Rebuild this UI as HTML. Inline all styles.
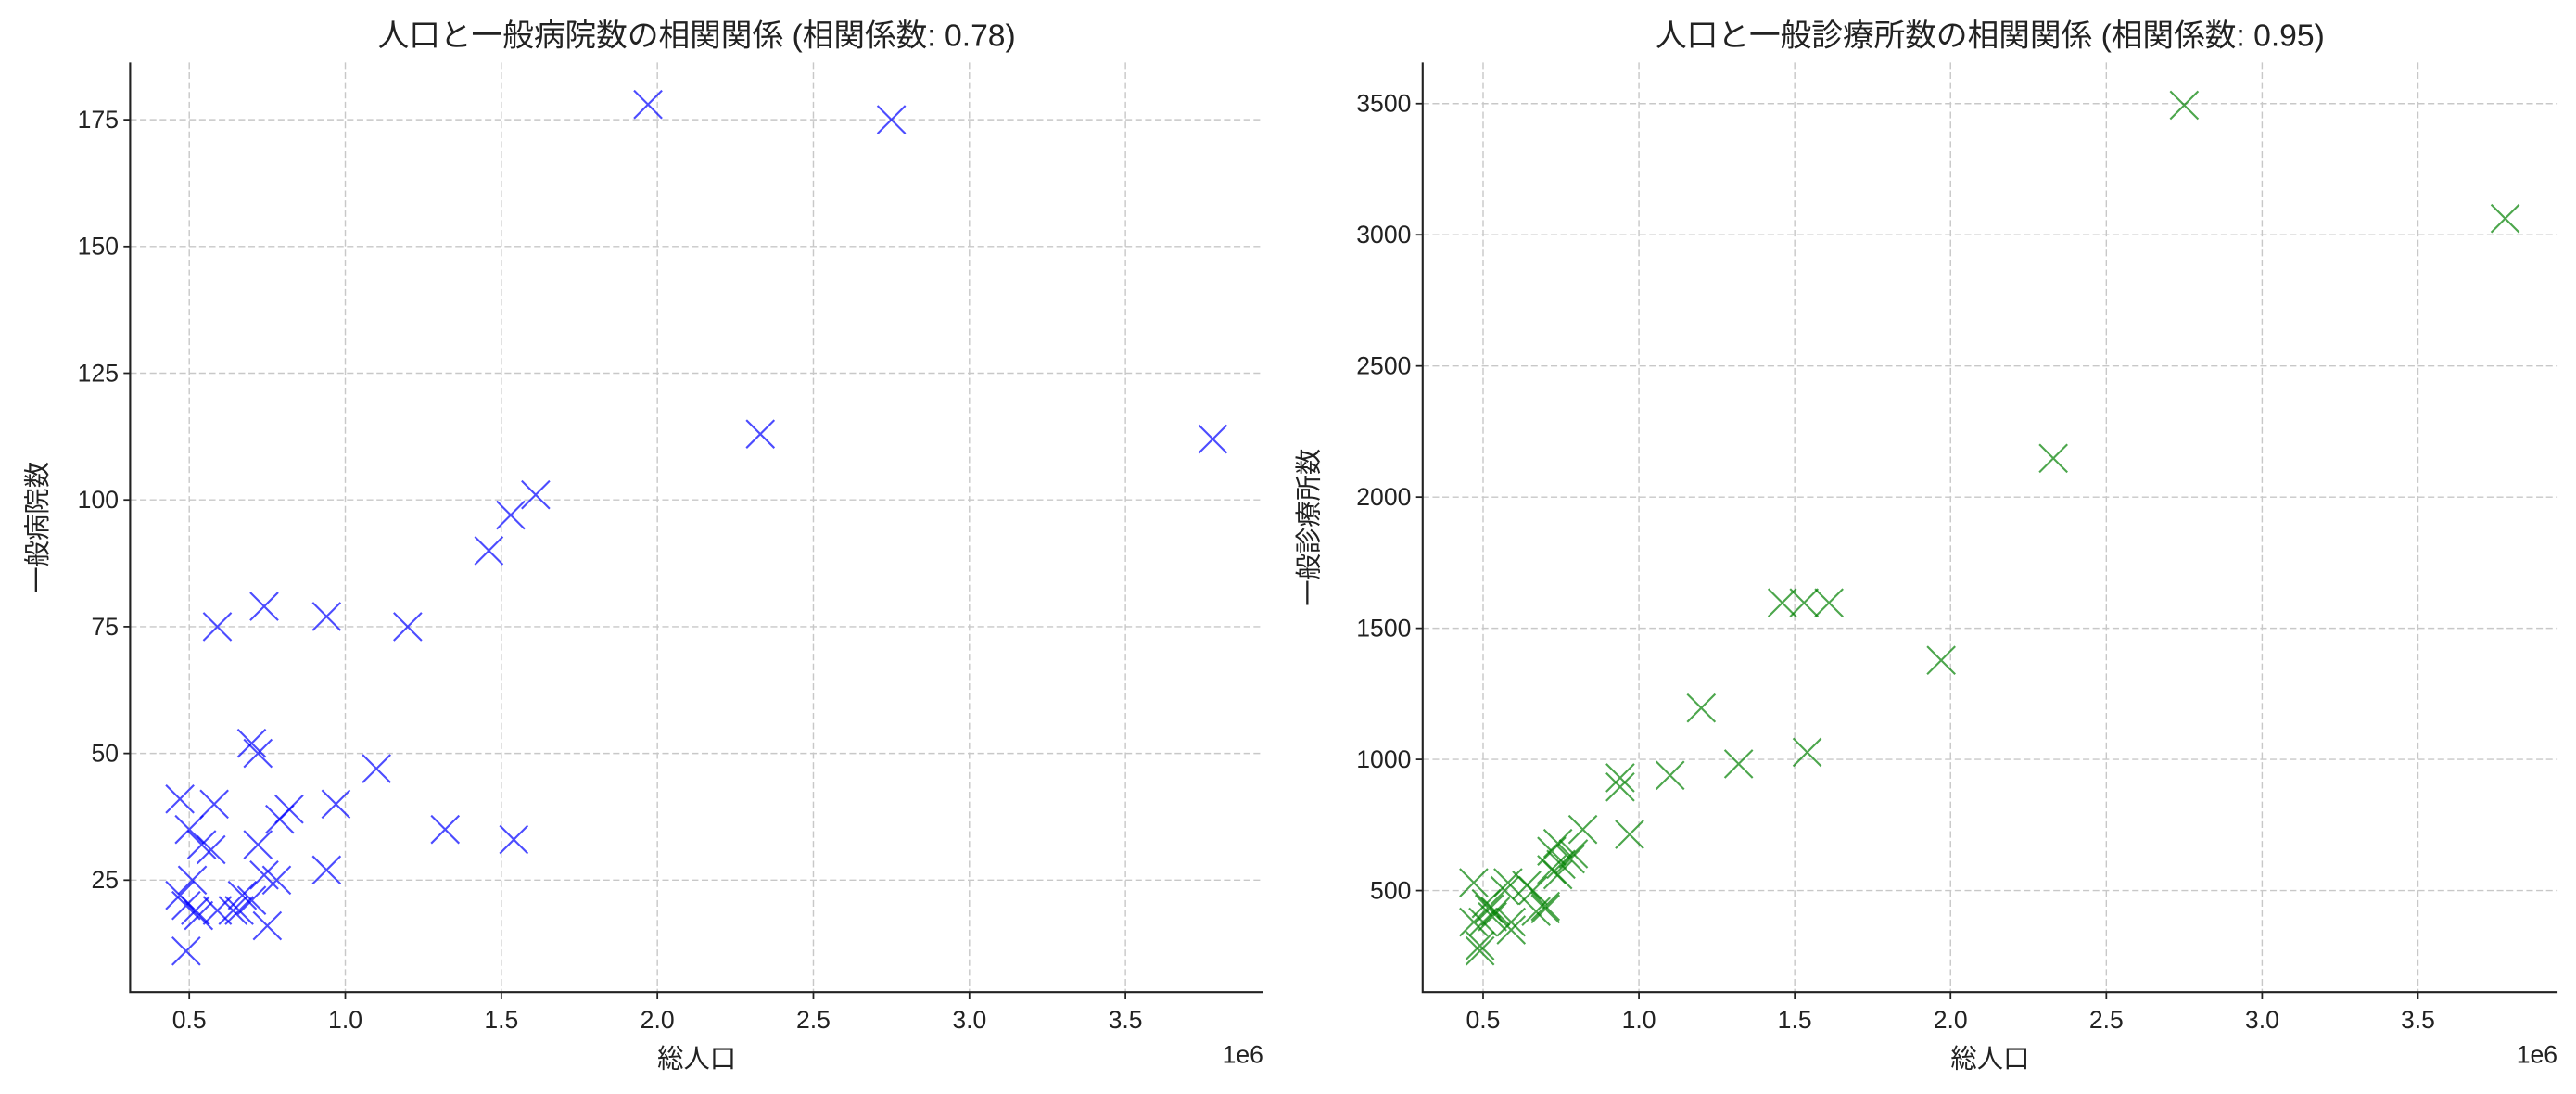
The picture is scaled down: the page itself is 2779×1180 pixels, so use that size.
<!DOCTYPE html>
<html><head><meta charset="utf-8"><style>
html,body{margin:0;padding:0;background:#fff;}
svg{display:block;font-family:"Liberation Sans","Noto Sans CJK JP",sans-serif;}
</style></head><body>
<svg id="chart" width="2779" height="1180" viewBox="0 0 1568 666" xmlns="http://www.w3.org/2000/svg"></svg>
<script>
const population = [3.78,2.75,2.33,1.97,1.61,1.53,1.54,1.46,1.32,1.20,1.10,0.97,0.94,0.94,0.82,0.79,0.78,0.75,0.74,0.74,0.72,0.72,0.70,0.70,0.67,0.66,0.64,0.59,0.59,0.58,0.57,0.54,0.53,0.52,0.51,0.50,0.49,0.49,0.47,0.47];
const hospitals = [112,175,113,178,101,97,33,90,35,75,47,40,77,27,39,37,25,16,79,26,50,32,52,21,22,19,19,75,19,40,31,32,18,19,25,35,20,11,41,22];
const clinics = [3062,3494,2148,1378,1597,1597,1027,1597,983,1196,939,714,930,895,733,640,620,600,680,560,580,650,430,440,420,500,520,380,350,530,500,420,400,430,450,380,290,270,530,380];
const xTicks = [0.5,1.0,1.5,2.0,2.5,3.0,3.5];
const yTicksLeft = [25,50,75,100,125,150,175];
const yTicksRight = [500,1000,1500,2000,2500,3000,3500];

const NS="http://www.w3.org/2000/svg";
const svg=document.getElementById('chart');
function mk(tag,attrs,parent){const e=document.createElementNS(NS,tag);for(const k in attrs)e.setAttribute(k,attrs[k]);(parent||svg).appendChild(e);return e;}

function panel(cfg){
  const g=mk('g',{});
  
  
  const {x0,x1,y0,y1,xd,yd}=cfg;
  const sx=v=>x0+(v-xd[0])/(xd[1]-xd[0])*(x1-x0);
  const sy=v=>y1-(v-yd[0])/(yd[1]-yd[0])*(y1-y0);
  // grid
  xTicks.forEach(t=>{
    const l=mk('line',{x1:sx(t),x2:sx(t),y1:y0,y2:y1,stroke:'#c8c8c8','stroke-width':0.8,'stroke-dasharray':'4,2'},g);
    
    
    const tk=mk('line',{x1:sx(t),x2:sx(t),y1:y1,y2:y1+4,stroke:'#222','stroke-width':1},g);
    
    
    const tx=mk('text',{x:sx(t),y:y1+22,'text-anchor':'middle','font-size':15,fill:'#222'},g);
    tx.textContent=t.toFixed(1);
    
    
  });
  cfg.yTicks.forEach(t=>{
    const l=mk('line',{x1:x0,x2:x1,y1:sy(t),y2:sy(t),stroke:'#c8c8c8','stroke-width':0.8,'stroke-dasharray':'4,2'},g);
    
    
    const tk=mk('line',{x1:x0-4,x2:x0,y1:sy(t),y2:sy(t),stroke:'#222','stroke-width':1},g);
    
    
    const tx=mk('text',{x:x0-7,y:sy(t)+5,'text-anchor':'end','font-size':15,fill:'#222'},g);
    tx.textContent=t;
    
    
  });
  // spines
  const sp=mk('path',{d:`M${x0},${y0}V${y1}H${x1}`,fill:'none',stroke:'#222','stroke-width':1.2},g);
  
  
  // points
  population.forEach((p,i)=>{
    const cx=sx(p),cy=sy(cfg.values[i]),r=8.5;
    const m=mk('path',{d:`M${cx-r},${cy-r}L${cx+r},${cy+r}M${cx-r},${cy+r}L${cx+r},${cy-r}`,stroke:cfg.color,'stroke-opacity':0.7,'stroke-width':1.2,fill:'none'},g);
    
    
  });
  const t=mk('text',{x:(x0+x1)/2,y:28,'text-anchor':'middle','font-size':19,fill:'#222'},g);
  t.textContent=cfg.title;
  
  
  const xl=mk('text',{x:(x0+x1)/2,y:650,'text-anchor':'middle','font-size':16,fill:'#222'},g);
  xl.textContent='総人口';
  
  
  const off=mk('text',{x:x1,y:647,'text-anchor':'end','font-size':15,fill:'#222'},g);
  off.textContent='1e6';
  
  
  const yl=mk('text',{x:0,y:0,'text-anchor':'middle','font-size':16,fill:'#222',transform:`translate(${cfg.ylx},${(y0+y1)/2}) rotate(-90)`},g);
  yl.textContent=cfg.ylabel;
  
  
}
panel({name:'hospital-panel',x0:79,x1:769,y0:38,y1:604,xd:[0.3105,3.942],yd:[2.9,186.3],yTicks:yTicksLeft,values:hospitals,color:'#0000ff',title:'人口と一般病院数の相関関係 (相関係数: 0.78)',ylabel:'一般病院数',ylx:28});
panel({name:'clinic-panel',x0:866,x1:1557,y0:38,y1:604,xd:[0.306,3.948],yd:[112.7,3657],yTicks:yTicksRight,values:clinics,color:'#008000',title:'人口と一般診療所数の相関関係 (相関係数: 0.95)',ylabel:'一般診療所数',ylx:802});
</script>
</body></html>
